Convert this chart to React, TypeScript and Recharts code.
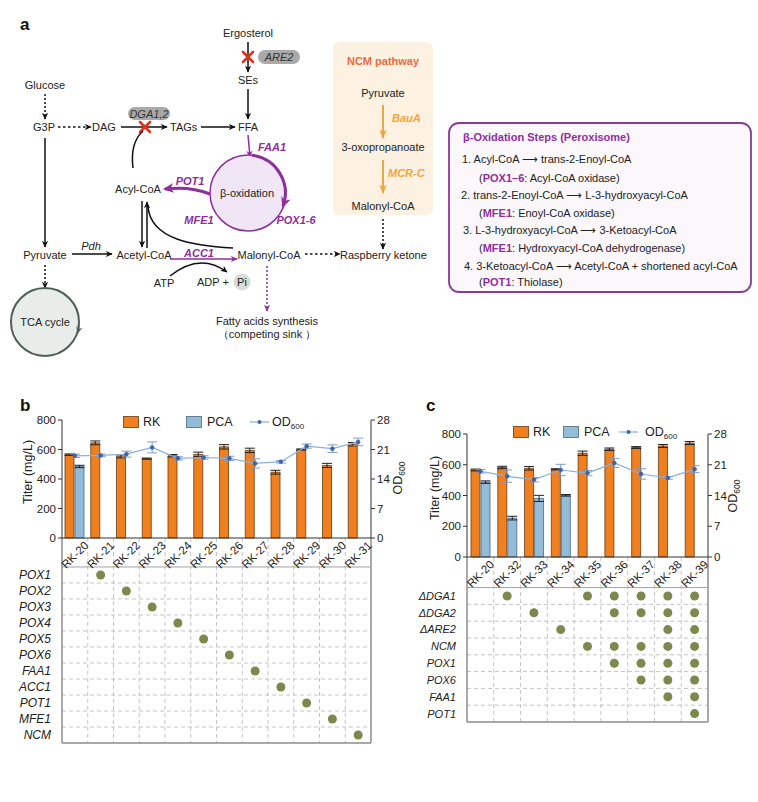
import React from 'react';
import {
  ComposedChart, Bar, Line, XAxis, YAxis, ErrorBar, Legend,
  ScatterChart, Scatter, ZAxis, CartesianGrid, ReferenceLine,
} from 'recharts';

const FONT = '"Liberation Sans", Arial, Helvetica, sans-serif';

// ---------------- Panel b data ----------------
const strainsB = ['RK-20', 'RK-21', 'RK-22', 'RK-23', 'RK-24', 'RK-25', 'RK-26', 'RK-27', 'RK-28', 'RK-29', 'RK-30', 'RK-31'];
const rkB = [565, 645, 553, 538, 558, 567, 618, 594, 446, 600, 492, 636];
const rkErrB = [5, 13, 10, 4, 8, 15, 15, 15, 13, 4, 14, 12];
const pcaB = [485, null, null, null, null, null, null, null, null, null, null, null];
const pcaErrB = [8, null, null, null, null, null, null, null, null, null, null, null];
const odB = [19.5, 19.6, 19.9, 21.5, 18.9, 19.1, 18.9, 17.7, 18.1, 21.8, 21.2, 22.8];
const odErrB = [0.4, 0.3, 0.7, 1.3, 0.4, 0.4, 0.5, 1.1, 0.3, 0.5, 0.9, 0.9];
const genesB = ['POX1', 'POX2', 'POX3', 'POX4', 'POX5', 'POX6', 'FAA1', 'ACC1', 'POT1', 'MFE1', 'NCM'];
const modsB: string[][] = [[], ['POX1'], ['POX2'], ['POX3'], ['POX4'], ['POX5'], ['POX6'], ['FAA1'], ['ACC1'], ['POT1'], ['MFE1'], ['NCM']];

// ---------------- Panel c data ----------------
const strainsC = ['RK-20', 'RK-32', 'RK-33', 'RK-34', 'RK-35', 'RK-36', 'RK-37', 'RK-38', 'RK-39'];
const rkC = [566, 582, 577, 570, 675, 701, 712, 722, 741];
const rkErrC = [6, 8, 12, 4, 14, 8, 6, 10, 10];
const pcaC = [487, 253, 381, 401, null, null, null, null, null];
const pcaErrC = [8, 12, 20, 5, null, null, null, null, null];
const odC = [19.5, 18.4, 17.6, 19.8, 19.1, 21.4, 18.9, 18.0, 20.0];
const odErrC = [0.4, 1.4, 0.5, 1.3, 0.6, 1.0, 1.2, 0.3, 0.8];
const genesC = ['\u0394DGA1', '\u0394DGA2', '\u0394ARE2', 'NCM', 'POX1', 'POX6', 'FAA1', 'POT1'];
const modsC: string[][] = [
  [],
  ['\u0394DGA1'],
  ['\u0394DGA2'],
  ['\u0394ARE2'],
  ['\u0394DGA1', 'NCM'],
  ['\u0394DGA1', '\u0394DGA2', 'NCM', 'POX1'],
  ['\u0394DGA1', '\u0394DGA2', 'NCM', 'POX1', 'POX6'],
  ['\u0394DGA1', '\u0394DGA2', '\u0394ARE2', 'NCM', 'POX1', 'POX6', 'FAA1'],
  ['\u0394DGA1', '\u0394DGA2', '\u0394ARE2', 'NCM', 'POX1', 'POX6', 'FAA1', 'POT1'],
];

const titerTicks = [0, 200, 400, 600, 800];
const odTicks = [0, 7, 14, 21, 28];

const buildBars = (strains: string[], rk: number[], rkErr: number[], pca: (number | null)[], pcaErr: (number | null)[], od: number[], odErr: number[]) =>
  strains.map((s, i) => ({ strain: s, rk: rk[i], rkErr: rkErr[i], pca: pca[i], pcaErr: pcaErr[i], od: od[i], odErr: odErr[i] }));

const buildDots = (strains: string[], genes: string[], mods: string[][]) => {
  const pts: { x: number; y: number }[] = [];
  strains.forEach((_, i) => {
    mods[i].forEach((g) => {
      const r = genes.indexOf(g);
      if (r >= 0) pts.push({ x: i + 0.5, y: r + 0.5 });
    });
  });
  return pts;
};

const dataB = buildBars(strainsB, rkB, rkErrB, pcaB, pcaErrB, odB, odErrB);
const dataC = buildBars(strainsC, rkC, rkErrC, pcaC, pcaErrC, odC, odErrC);
const dotsB = buildDots(strainsB, genesB, modsB);
const dotsC = buildDots(strainsC, genesC, modsC);

const ORANGE = '#f07f1f';
const BLUE = '#93bcd8';
const LINEBLUE = '#8aafdb';
const DOTBLUE = '#3d63a8';
const PURPLE = '#8e2f9e';
const OLIVE = '#7b8a4c';

const RotTick = (props: any) => {
  const { x, y, payload } = props;
  const cy = y + 17;
  return (
    <text x={x} y={cy} transform={`rotate(-45 ${x} ${cy})`} textAnchor="middle" dominantBaseline="central"
      fontSize={11.5} fill="#222" fontFamily={FONT}>{payload.value}</text>
  );
};

const LegendBox = ({ pos }: { pos: number[] }) => (
  <svg width={220} height={16} style={{ overflow: 'visible', display: 'block' }}>
    <rect x={0.5} y={2.5} width={15} height={11} fill={ORANGE} stroke="#6b3b12" strokeWidth={0.8} />
    <text x={pos[0]} y={12} fontSize={12.5} fill="#222" fontFamily={FONT}>RK</text>
    <rect x={pos[1] + 0.5} y={2.5} width={15} height={11} fill={BLUE} stroke="#4a6a80" strokeWidth={0.8} />
    <text x={pos[2]} y={12} fontSize={12.5} fill="#222" fontFamily={FONT}>PCA</text>
    <line x1={pos[3]} x2={pos[3] + 19} y1={8} y2={8} stroke={LINEBLUE} strokeWidth={1.2} />
    <circle cx={pos[3] + 9.5} cy={8} r={2} fill={DOTBLUE} />
    <text x={pos[4]} y={12} fontSize={12.5} fill="#222" fontFamily={FONT}>OD<tspan fontSize={8} dy={3}>600</tspan></text>
  </svg>
);

const BarPanel = ({ data, width, height, margin, legendLeft, legendTop, legendPos }: any) => (
  <ComposedChart width={width} height={height} data={data} margin={margin} barSize={9} barGap={1}>
    <XAxis dataKey="strain" interval={0} height={30} tickSize={0} tickMargin={0}
      axisLine={{ stroke: '#333', strokeWidth: 1 }} tickLine={false} tick={<RotTick />} />
    <YAxis yAxisId="left" domain={[0, 800]} ticks={titerTicks} interval={0} width={40} tickSize={4}
      axisLine={{ stroke: '#333' }} tickLine={{ stroke: '#333' }}
      tick={{ fontSize: 11.5, fill: '#222', fontFamily: FONT }} />
    <YAxis yAxisId="right" orientation="right" domain={[0, 28]} ticks={odTicks} interval={0} width={40} tickSize={4}
      axisLine={{ stroke: '#333' }} tickLine={{ stroke: '#333' }}
      tick={{ fontSize: 11.5, fill: '#222', fontFamily: FONT }} />
    <Bar yAxisId="left" dataKey="rk" name="RK" fill={ORANGE} stroke="#6b3b12" strokeWidth={0.8} isAnimationActive={false}>
      <ErrorBar dataKey="rkErr" width={5} stroke="#222" strokeWidth={1} />
    </Bar>
    <Bar yAxisId="left" dataKey="pca" name="PCA" fill={BLUE} stroke="#4a6a80" strokeWidth={0.8} isAnimationActive={false}>
      <ErrorBar dataKey="pcaErr" width={5} stroke="#222" strokeWidth={1} />
    </Bar>
    <Line yAxisId="right" dataKey="od" name="OD600" stroke={LINEBLUE} strokeWidth={1.2}
      dot={{ r: 2, fill: DOTBLUE, stroke: DOTBLUE, strokeWidth: 0.5 }} isAnimationActive={false}>
      <ErrorBar dataKey="odErr" width={5} stroke="#7f9dc6" strokeWidth={1} />
    </Line>
    <Legend verticalAlign="middle" align="center" layout="horizontal"
      wrapperStyle={{ left: legendLeft, top: legendTop, width: 220, height: 16 }}
      content={() => <LegendBox pos={legendPos} />} />
  </ComposedChart>
);

const DotPanel = ({ dots, strains, genes, width, height, margin, header, labelSize }: any) => {
  const colBounds = strains.slice(1).map((_: string, i: number) => i + 1);
  const rowBounds = genes.slice(1).map((_: string, i: number) => i + 1);
  const rowTicks = genes.map((_: string, i: number) => i + 0.5);
  return (
    <ScatterChart width={width} height={height} margin={margin}>
      <CartesianGrid stroke="#c4c4c4" strokeDasharray="4 3" verticalValues={colBounds} horizontalValues={rowBounds} />
      <XAxis type="number" dataKey="x" domain={[0, strains.length]} hide allowDataOverflow />
      <YAxis type="number" dataKey="y" domain={[-header, genes.length]} reversed allowDataOverflow
        ticks={rowTicks} interval={0} width={40} tickLine={false} tickMargin={5}
        tickFormatter={(v: number) => genes[Math.floor(v)]}
        axisLine={{ stroke: '#8c8c8c', strokeWidth: 1.5 }}
        tick={{ fontSize: labelSize, fill: '#222', fontStyle: 'italic', fontFamily: FONT }} />
      <ZAxis range={[26, 26]} />
      <ReferenceLine x={strains.length} stroke="#8c8c8c" strokeWidth={1.5} />
      <ReferenceLine y={0} stroke="#a0a0a0" strokeWidth={1} />
      <ReferenceLine y={genes.length} stroke="#8c8c8c" strokeWidth={1.5} />
      <Scatter data={dots} fill={OLIVE} isAnimationActive={false} />
    </ScatterChart>
  );
};

const RedX = ({ x, y }: { x: number; y: number }) => (
  <g stroke="#e2321f" strokeWidth={2.6} strokeLinecap="round">
    <line x1={x - 5} y1={y - 5} x2={x + 5} y2={y + 5} />
    <line x1={x - 5} y1={y + 5} x2={x + 5} y2={y - 5} />
  </g>
);

const T = (p: any) => <text fontFamily={FONT} fontSize={11} fill="#222" {...p} />;

const Diagram = () => (
  <svg width={758} height={400} style={{ position: 'absolute', left: 0, top: 0 }}>
    <defs>
      <marker id="mk" markerUnits="userSpaceOnUse" markerWidth="7" markerHeight="7" viewBox="0 0 10 10" refX="9" refY="5" orient="auto">
        <path d="M0,0.5 L10,5 L0,9.5 L3,5 Z" fill="#111" />
      </marker>
      <marker id="mkG" markerUnits="userSpaceOnUse" markerWidth="7" markerHeight="7" viewBox="0 0 10 10" refX="9" refY="5" orient="auto">
        <path d="M0,0.5 L10,5 L0,9.5 L3,5 Z" fill="#4f5f55" />
      </marker>
      <marker id="mkP" markerUnits="userSpaceOnUse" markerWidth="7" markerHeight="7" viewBox="0 0 10 10" refX="9" refY="5" orient="auto">
        <path d="M0,0.5 L10,5 L0,9.5 L3,5 Z" fill={PURPLE} />
      </marker>
      <marker id="mkP2" markerUnits="userSpaceOnUse" markerWidth="11" markerHeight="11" viewBox="0 0 10 10" refX="8" refY="5" orient="auto">
        <path d="M0,0.5 L10,5 L0,9.5 L3,5 Z" fill={PURPLE} />
      </marker>
      <marker id="mkO" markerUnits="userSpaceOnUse" markerWidth="9" markerHeight="9" viewBox="0 0 10 10" refX="9" refY="5" orient="auto">
        <path d="M0,1 L10,5 L0,9 L2,5 Z" fill="#f3a53a" />
      </marker>
    </defs>
    <text x={20} y={30} fontFamily={FONT} fontSize={17} fontWeight="bold" fill="#111">a</text>

    {/* Ergosterol branch */}
    <T x={248} y={37} textAnchor="middle">Ergosterol</T>
    <line x1={248} y1={42} x2={248} y2={72} stroke="#111" strokeWidth={1.5} markerEnd="url(#mk)" />
    <RedX x={248} y={57} />
    <rect x={258} y={50} width={42} height={14} rx={7} fill="#a9a9a9" />
    <T x={279} y={61} textAnchor="middle" fontStyle="italic" fill="#333">ARE2</T>
    <T x={248} y={84} textAnchor="middle">SEs</T>
    <line x1={248} y1={89} x2={248} y2={119} stroke="#111" strokeWidth={1.5} markerEnd="url(#mk)" />
    <T x={248} y={131} textAnchor="middle">FFA</T>

    {/* Glucose / lipid */}
    <T x={45} y={89} textAnchor="middle">Glucose</T>
    <line x1={45} y1={94} x2={45} y2={119} stroke="#111" strokeWidth={1.5} strokeDasharray="2 2" markerEnd="url(#mk)" />
    <T x={44} y={131} textAnchor="middle">G3P</T>
    <line x1={58} y1={127} x2={91} y2={127} stroke="#111" strokeWidth={1.3} strokeDasharray="2.5 2.5" markerEnd="url(#mk)" />
    <T x={92} y={131}>DAG</T>
    <line x1={121} y1={127} x2={167} y2={127} stroke="#111" strokeWidth={1.5} markerEnd="url(#mk)" />
    <rect x={128} y={107} width={42} height={13} rx={6.5} fill="#a9a9a9" />
    <T x={149} y={117.5} textAnchor="middle" fontStyle="italic" fill="#333">DGA1,2</T>
    <RedX x={145} y={127} />
    <T x={170} y={131}>TAGs</T>
    <line x1={201} y1={127} x2={235} y2={127} stroke="#111" strokeWidth={1.5} markerEnd="url(#mk)" />
    <path d="M133,168 C131,152 134,139 143,131" fill="none" stroke="#111" strokeWidth={1.5} />

    {/* beta oxidation */}
    <line x1={248} y1={135} x2={250} y2={157} stroke={PURPLE} strokeWidth={1.5} markerEnd="url(#mkP)" />
    <T x={258} y={151} fontStyle="italic" fontWeight="bold" fill={PURPLE}>FAA1</T>
    <circle cx={248} cy={193} r={38} fill="#f0e6f6" stroke={PURPLE} strokeWidth={1.5} />
    <path d="M252,155.3 A38,38 0 0,1 283,206" fill="none" stroke={PURPLE} strokeWidth={3} markerEnd="url(#mkP2)" />
    <T x={247} y={197} textAnchor="middle">β-oxidation</T>
    <T x={296} y={224} textAnchor="middle" fontStyle="italic" fontWeight="bold" fill={PURPLE}>POX1-6</T>
    <path d="M210,194 Q190,186 165,189" fill="none" stroke={PURPLE} strokeWidth={3} markerEnd="url(#mkP2)" />
    <T x={190} y={185} textAnchor="middle" fontStyle="italic" fontWeight="bold" fill={PURPLE}>POT1</T>
    <T x={199} y={224} textAnchor="middle" fontStyle="italic" fontWeight="bold" fill={PURPLE}>MFE1</T>
    <T x={138} y={193} textAnchor="middle">Acyl-CoA</T>
    <line x1={142} y1={201} x2={142} y2={247} stroke="#111" strokeWidth={1.5} markerEnd="url(#mk)" />
    <line x1={147} y1={248} x2={147} y2={202} stroke="#111" strokeWidth={1.5} markerEnd="url(#mk)" />
    <path d="M233,248 C195,246 150,240 148,206" fill="none" stroke="#111" strokeWidth={1.5} />

    {/* Pyruvate row */}
    <line x1={45} y1={138} x2={45} y2={247} stroke="#111" strokeWidth={1.5} markerEnd="url(#mk)" />
    <T x={45} y={259} textAnchor="middle">Pyruvate</T>
    <line x1={72} y1={254} x2={112} y2={254} stroke="#111" strokeWidth={1.5} markerEnd="url(#mk)" />
    <T x={91} y={250} textAnchor="middle" fontStyle="italic">Pdh</T>
    <T x={144} y={259} textAnchor="middle">Acetyl-CoA</T>
    <line x1={170} y1={259} x2={237} y2={259} stroke={PURPLE} strokeWidth={1.5} markerEnd="url(#mkP)" />
    <T x={199} y={257} textAnchor="middle" fontStyle="italic" fontWeight="bold" fill={PURPLE}>ACC1</T>
    <T x={164} y={287} textAnchor="middle">ATP</T>
    <path d="M170,276 Q200,252 227,272" fill="none" stroke="#111" strokeWidth={1.5} markerEnd="url(#mk)" />
    <T x={197} y={286}>ADP +</T>
    <circle cx={242} cy={282} r={8.5} fill="#d9ddd5" />
    <T x={242} y={286} textAnchor="middle">Pi</T>
    <T x={269} y={259} textAnchor="middle">Malonyl-CoA</T>
    <line x1={305} y1={254} x2={340} y2={254} stroke="#111" strokeWidth={1.3} strokeDasharray="2.5 2.5" markerEnd="url(#mk)" />
    <T x={340} y={259}>Raspberry ketone</T>
    <line x1={267} y1={266} x2={267} y2={311} stroke={PURPLE} strokeWidth={1.5} strokeDasharray="2 2" markerEnd="url(#mkP)" />
    <T x={267} y={325} textAnchor="middle">Fatty acids synthesis</T>
    <T x={267} y={338} textAnchor="middle">（competing sink ）</T>
    <line x1={45} y1={265} x2={45} y2={288} stroke="#111" strokeWidth={1.5} strokeDasharray="2 2" markerEnd="url(#mk)" />
    <circle cx={45} cy={322} r={34} fill="#e9ede9" stroke="#4f5f55" strokeWidth={2} />
    <path d="M79,325 A34,34 0 0,1 77.5,333" fill="none" stroke="#4f5f55" strokeWidth={1.5} markerEnd="url(#mkG)" />
    <T x={45} y={326} textAnchor="middle">TCA cycle</T>

    {/* NCM pathway */}
    <rect x={333} y={42} width={100} height={173} rx={6} fill="#fdf1e1" />
    <T x={383} y={65} textAnchor="middle" fontWeight="bold" fill="#ec6a3c">NCM pathway</T>
    <T x={383} y={97} textAnchor="middle">Pyruvate</T>
    <line x1={383} y1={105} x2={383} y2={138} stroke="#f3a53a" strokeWidth={2} markerEnd="url(#mkO)" />
    <T x={392} y={122} fontStyle="italic" fontWeight="bold" fill="#f3a53a">BauA</T>
    <T x={383} y={151} textAnchor="middle">3-oxopropanoate</T>
    <line x1={383} y1={160} x2={383} y2={193} stroke="#f3a53a" strokeWidth={2} markerEnd="url(#mkO)" />
    <T x={388} y={177} fontStyle="italic" fontWeight="bold" fill="#f3a53a">MCR-C</T>
    <T x={383} y={210} textAnchor="middle">Malonyl-CoA</T>
    <line x1={383} y1={219} x2={383} y2={249} stroke="#111" strokeWidth={1.5} strokeDasharray="2 2" markerEnd="url(#mk)" />

    {/* beta-oxidation steps box */}
    <rect x={449} y={123} width={302} height={169} rx={10} fill="#fbf7fb" stroke="#8a3a98" strokeWidth={1.8} />
    <T x={463} y={141} fontWeight="bold" fill={PURPLE}>β-Oxidation Steps (Peroxisome)</T>
    <T x={462} y={163}>1. Acyl-CoA ⟶ trans-2-Enoyl-CoA</T>
    <T x={479} y={182}>(<tspan fontWeight="bold" fill={PURPLE}>POX1–6</tspan>: Acyl-CoA oxidase)</T>
    <T x={461} y={199}>2. trans-2-Enoyl-CoA ⟶ L-3-hydroxyacyl-CoA</T>
    <T x={479} y={217}>(<tspan fontWeight="bold" fill={PURPLE}>MFE1</tspan>: Enoyl-CoA oxidase)</T>
    <T x={463} y={234}>3. L-3-hydroxyacyl-CoA ⟶ 3-Ketoacyl-CoA</T>
    <T x={479} y={252}>(<tspan fontWeight="bold" fill={PURPLE}>MFE1</tspan>: Hydroxyacyl-CoA dehydrogenase)</T>
    <T x={464} y={270}>4. 3-Ketoacyl-CoA ⟶ Acetyl-CoA + shortened acyl-CoA</T>
    <T x={479} y={286}>(<tspan fontWeight="bold" fill={PURPLE}>POT1</tspan>: Thiolase)</T>
  </svg>
);

const Titles = () => (
  <svg width={758} height={802} style={{ position: 'absolute', left: 0, top: 0, pointerEvents: 'none' }}>
    <text x={20} y={411} fontFamily={FONT} fontSize={17} fontWeight="bold" fill="#111">b</text>
    <text x={426} y={411} fontFamily={FONT} fontSize={17} fontWeight="bold" fill="#111">c</text>
    <text x={32} y={472} transform="rotate(-90 32 472)" textAnchor="middle" fontFamily={FONT} fontSize={12.5} fill="#222">Titer (mg/L)</text>
    <text x={402} y={478} transform="rotate(-90 402 478)" textAnchor="middle" fontFamily={FONT} fontSize={12.5} fill="#222">OD<tspan fontSize={8.5} dy={3}>600</tspan></text>
    <text x={439} y={488} transform="rotate(-90 439 488)" textAnchor="middle" fontFamily={FONT} fontSize={12.5} fill="#222">Titer (mg/L)</text>
    <text x={737} y={496} transform="rotate(-90 737 496)" textAnchor="middle" fontFamily={FONT} fontSize={12.5} fill="#222">OD<tspan fontSize={8.5} dy={3}>600</tspan></text>
  </svg>
);

export default function App() {
  return (
    <div style={{ position: 'absolute', left: 0, top: 0, width: 758, height: 802, background: '#fff', fontFamily: FONT, overflow: 'hidden' }}>
      <Diagram />
      <div style={{ position: 'absolute', left: 0, top: 538 }}>
        <DotPanel dots={dotsB} strains={strainsB} genes={genesB} width={420} height={210}
          margin={{ top: 0, right: 49, bottom: 5, left: 22 }} header={1.81} labelSize={12} />
      </div>
      <div style={{ position: 'absolute', left: 380, top: 557 }}>
        <DotPanel dots={dotsC} strains={strainsC} genes={genesC} width={370} height={170}
          margin={{ top: 0, right: 42, bottom: 5, left: 47 }} header={1.82} labelSize={11} />
      </div>
      <div style={{ position: 'absolute', left: 0, top: 400 }}>
        <BarPanel data={dataB} width={420} height={175} margin={{ top: 20, right: 9, bottom: 7, left: 22 }}
          legendLeft={123} legendTop={14} legendPos={[20, 63, 84, 127, 149]} />
      </div>
      <div style={{ position: 'absolute', left: 380, top: 400 }}>
        <BarPanel data={dataC} width={370} height={190} margin={{ top: 34, right: 2, bottom: 3, left: 47 }}
          legendLeft={133} legendTop={24} legendPos={[20, 50, 71, 106, 132]} />
      </div>
      <Titles />
    </div>
  );
}
